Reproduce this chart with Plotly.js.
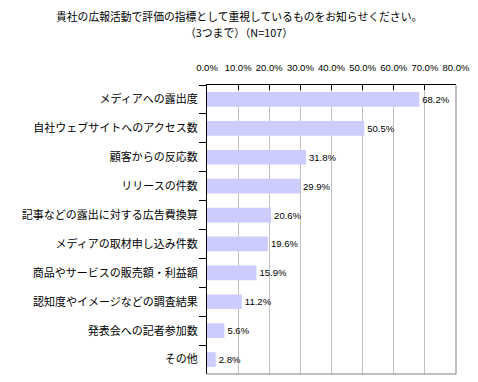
<!DOCTYPE html>
<html>
<head>
<meta charset="utf-8">
<script src="https://cdn.plot.ly/plotly-3.0.1.min.js"></script>
<style>html,body{margin:0;padding:0;background:#fff;}#chart{width:478px;height:382px;}</style>
</head>
<body>
<div id="chart"></div>
<script>
const categories = [
  "メディアへの露出度",
  "自社ウェブサイトへのアクセス数",
  "顧客からの反応数",
  "リリースの件数",
  "記事などの露出に対する広告費換算",
  "メディアの取材申し込み件数",
  "商品やサービスの販売額・利益額",
  "認知度やイメージなどの調査結果",
  "発表会への記者参加数",
  "その他"
];
const values = [68.2, 50.5, 31.8, 29.9, 20.6, 19.6, 15.9, 11.2, 5.6, 2.8];
const valueLabels = values.map(v => v.toFixed(1) + "%");
const titleLine1 = "貴社の広報活動で評価の指標として重視しているものをお知らせください。";
const titleLine2 = "（3つまで）（N=107）";

const jp = '"Noto Sans CJK JP", "Noto Sans", sans-serif';
const num = '"Liberation Sans", Arial, sans-serif';

const trace = {
  type: "bar",
  orientation: "h",
  x: values,
  y: categories,
  width: 0.51,
  marker: {color: "#CCCCFF", line: {width: 0}},
  text: valueLabels,
  textposition: "outside",
  textfont: {family: num, size: 9.5, color: "#000"},
  cliponaxis: false,
  hoverinfo: "skip"
};

const titleFont = {family: jp, size: 10.8, color: "#000"};
const titleX = (239 - 207) / 249;

const layout = {
  width: 478,
  height: 382,
  margin: {l: 207, r: 22, t: 85, b: 8, pad: 0},
  paper_bgcolor: "#fff",
  plot_bgcolor: "#fff",
  showlegend: false,
  annotations: [
    {text: titleLine1, xref: "paper", yref: "paper", x: titleX, y: 1, xanchor: "center", yanchor: "middle", yshift: 69, showarrow: false, font: titleFont},
    {text: titleLine2, xref: "paper", yref: "paper", x: titleX, y: 1, xanchor: "center", yanchor: "middle", yshift: 53, showarrow: false, font: titleFont}
  ],
  xaxis: {
    side: "top",
    range: [0, 80],
    dtick: 10,
    tick0: 0,
    tickformat: ".1f",
    ticksuffix: "%",
    ticks: "inside",
    ticklen: 5,
    tickcolor: "#000",
    tickfont: {family: num, size: 9.5, color: "#000"},
    ticklabelstandoff: 9,
    showgrid: true,
    gridcolor: "#C0C0C0",
    gridwidth: 1,
    showline: true,
    linecolor: "#000",
    linewidth: 1,
    zeroline: false,
    fixedrange: true
  },
  yaxis: {
    autorange: "reversed",
    type: "category",
    ticks: "outside",
    tickson: "boundaries",
    ticklen: 7,
    tickcolor: "#000",
    tickfont: {family: jp, size: 11, color: "#000"},
    ticklabelstandoff: 6,
    showgrid: false,
    showline: true,
    linecolor: "#000",
    linewidth: 1,
    zeroline: false,
    fixedrange: true
  },
  shapes: [
    {type: "line", xref: "paper", yref: "paper", x0: 1, x1: 1, y0: 0, y1: 1, line: {color: "#808080", width: 1}},
    {type: "line", xref: "paper", yref: "paper", x0: 0, x1: 1, y0: 0, y1: 0, line: {color: "#808080", width: 1}}
  ]
};

Plotly.newPlot("chart", [trace], layout, {displayModeBar: false, staticPlot: true});
</script>
</body>
</html>
